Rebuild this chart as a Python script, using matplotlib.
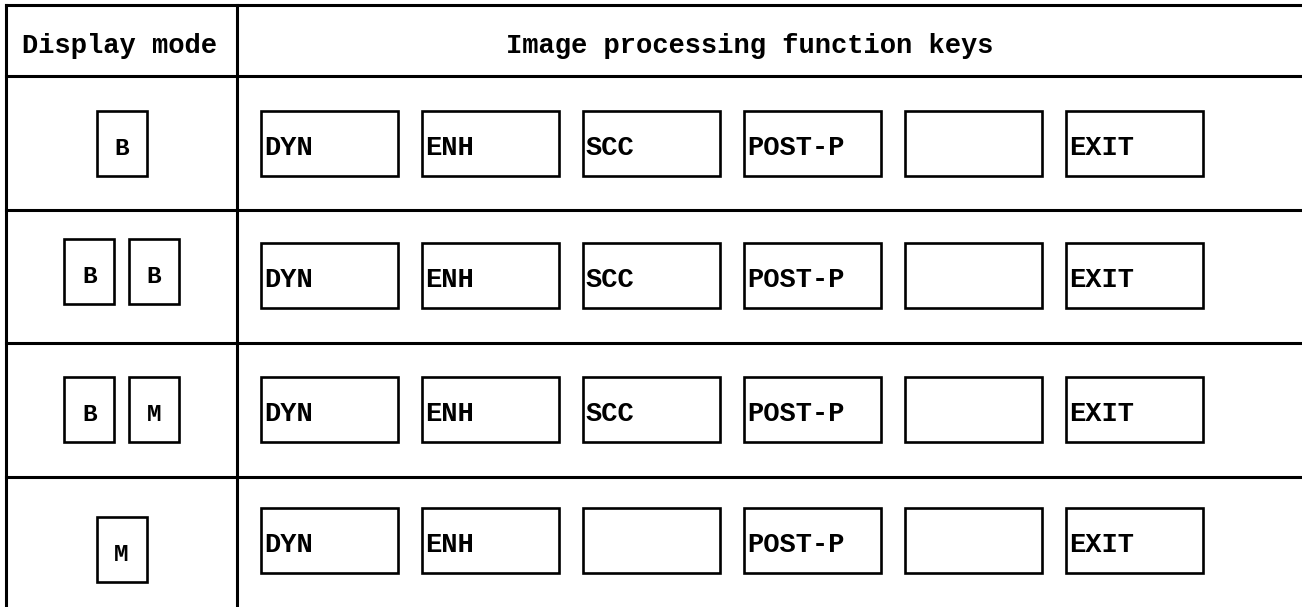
import matplotlib
matplotlib.use("Agg")
import matplotlib.pyplot as plt
from matplotlib.patches import Rectangle

# ---- data ----
header_left = "Display mode"
header_right = "Image processing function keys"
display_modes = [["B"], ["B", "B"], ["B", "M"], ["M"]]
function_keys = [
    ["DYN", "ENH", "SCC", "POST-P", "", "EXIT"],
    ["DYN", "ENH", "SCC", "POST-P", "", "EXIT"],
    ["DYN", "ENH", "SCC", "POST-P", "", "EXIT"],
    ["DYN", "ENH", "", "POST-P", "", "EXIT"],
]

# ---- layout (pixel space) ----
W, H = 1302, 607
FONT = "Liberation Mono"
FS = 19.5
table_left, table_top = 6, 5
col_split = 237
header_bottom = 76
row_h = 133.7
key_left0, key_step, key_w, key_h = 261, 161, 137, 65
disp_w, disp_h, disp_gap = 50, 65, 64.5
key_offsets = [35, 33.5, 34, 31]
disp_offsets = [35, 29, 34, 40]
lw_table, lw_box = 2.2, 1.9

fig = plt.figure(figsize=(W / 100, H / 100), dpi=100)
ax = fig.add_axes([0, 0, 1, 1])
ax.set_xlim(0, W)
ax.set_ylim(H, 0)
ax.axis("off")

# table lines
ax.plot([table_left, W], [table_top, table_top], color="black", lw=lw_table)
ax.plot([table_left, W], [header_bottom, header_bottom], color="black", lw=lw_table)
for i in range(1, len(display_modes)):
    y = header_bottom + i * row_h
    ax.plot([table_left, W], [y, y], color="black", lw=lw_table)
ax.plot([table_left, table_left], [table_top, H], color="black", lw=lw_table)
ax.plot([col_split, col_split], [table_top, H], color="black", lw=lw_table)

# headers
left_center = (table_left + col_split) / 2
ax.text(left_center - 2, 53, header_left, ha="center", va="baseline",
        fontsize=FS, fontweight="bold", family=FONT)
ax.text(750, 53, header_right, ha="center", va="baseline",
        fontsize=FS, fontweight="bold", family=FONT)

for r, (modes, keys) in enumerate(zip(display_modes, function_keys)):
    row_top = header_bottom + r * row_h
    # display mode boxes
    n = len(modes)
    dtop = row_top + disp_offsets[r]
    for j, m in enumerate(modes):
        cx = left_center + (j - (n - 1) / 2) * disp_gap
        ax.add_patch(Rectangle((cx - disp_w / 2, dtop), disp_w, disp_h,
                               fill=False, ec="black", lw=lw_box))
        ax.text(cx, dtop + disp_h - 21, m, ha="center", va="baseline",
                fontsize=FS * 0.9, fontweight="bold", family=FONT)
    # function key boxes
    ktop = row_top + key_offsets[r]
    for k, lab in enumerate(keys):
        kx = key_left0 + k * key_step
        ax.add_patch(Rectangle((kx, ktop), key_w, key_h,
                               fill=False, ec="black", lw=lw_box))
        if lab:
            ax.text(kx + 3, ktop + key_h - 21, lab, ha="left", va="baseline",
                    fontsize=FS, fontweight="bold", family=FONT)

fig.savefig("out.png", dpi=100, facecolor="white")
